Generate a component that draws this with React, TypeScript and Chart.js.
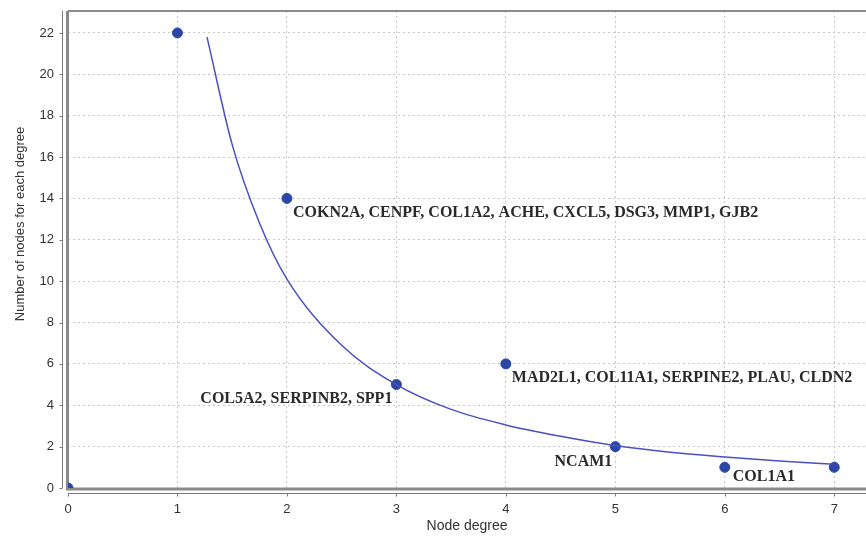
import React, { useEffect, useRef } from "react";
import { Chart, registerables } from "chart.js";

Chart.register(...registerables);

// Observed node-degree distribution
const degrees = [0, 1, 2, 3, 4, 5, 6, 7];
const nodeCounts = [0, 22, 14, 5, 6, 2, 1, 1];

// Gene labels attached to some of the points (by degree)
const labelDegrees = [2, 3, 4, 5, 6];
const labelTexts = [
  "COKN2A, CENPF, COL1A2, ACHE, CXCL5, DSG3, MMP1, GJB2",
  "COL5A2, SERPINB2, SPP1",
  "MAD2L1, COL11A1, SERPINE2, PLAU, CLDN2",
  "NCAM1",
  "COL1A1",
];

// Fitted power-law curve
const fitX = [1.27, 1.5, 1.75, 2, 2.5, 3, 3.5, 4, 4.5, 5, 5.5, 6, 6.5, 7];
const fitY = [21.8, 16.6, 12.8, 10.1, 6.9, 5.0, 3.8, 3.05, 2.5, 2.05, 1.73, 1.5, 1.3, 1.15];

const xTicks = [0, 1, 2, 3, 4, 5, 6, 7];
const yTicks = [0, 2, 4, 6, 8, 10, 12, 14, 16, 18, 20, 22];

const xTitle = "Node degree";
const yTitle = "Number of nodes for each degree";

const POINT_COLOR = "#2b46a6";
const LINE_COLOR = "#4a50c2";
const SANS = "'Liberation Sans', Arial, sans-serif";

// label placement styles: [dx, dy, align]
const labelPlacement: [number, number, CanvasTextAlign][] = [
  [6, 14, "left"],
  [-4, 14, "right"],
  [6, 14, "left"],
  [-3, 15, "right"],
  [8, 10, "left"],
];

const framePlugin = {
  id: "frame",
  afterLayout(chart: any) {
    // let the plot run to the right edge of the canvas, as in the reference
    const xs = chart.scales.x;
    const w = chart.width;
    chart.chartArea.right = w;
    chart.chartArea.width = w - chart.chartArea.left;
    xs.right = w;
    xs.width = w - xs.left;
    xs.configure();
  },
  beforeDatasetsDraw(chart: any) {
    const { ctx, chartArea } = chart;
    const { left, right, top, bottom } = chartArea;
    const xs = chart.scales.x;
    const ys = chart.scales.y;
    ctx.save();
    // top border
    ctx.strokeStyle = "#8c8c8c";
    ctx.lineWidth = 2;
    ctx.beginPath();
    ctx.moveTo(left, top);
    ctx.lineTo(right, top);
    ctx.stroke();
    // inner plot borders (left & bottom)
    ctx.strokeStyle = "#8a8a8a";
    ctx.lineWidth = 3;
    ctx.beginPath();
    ctx.moveTo(left - 0.5, top);
    ctx.lineTo(left - 0.5, bottom + 1);
    ctx.lineTo(right, bottom + 1);
    ctx.stroke();
    // outer axis lines
    ctx.strokeStyle = "#7a7a7a";
    ctx.lineWidth = 1;
    ctx.beginPath();
    ctx.moveTo(left - 5.5, top);
    ctx.lineTo(left - 5.5, bottom);
    ctx.moveTo(left, bottom + 5.5);
    ctx.lineTo(right, bottom + 5.5);
    ctx.stroke();
    // tick marks
    ctx.beginPath();
    for (const v of yTicks) {
      const py = Math.round(ys.getPixelForValue(v)) + 0.5;
      ctx.moveTo(left - 5.5, py);
      ctx.lineTo(left - 8.5, py);
    }
    for (const v of xTicks) {
      const px = Math.round(xs.getPixelForValue(v)) + 0.5;
      ctx.moveTo(px, bottom + 5.5);
      ctx.lineTo(px, bottom + 8.5);
    }
    ctx.stroke();
    // y axis title
    ctx.fillStyle = "#333333";
    ctx.font = `13px ${SANS}`;
    ctx.textAlign = "center";
    ctx.textBaseline = "middle";
    ctx.translate(20, 224);
    ctx.rotate(-Math.PI / 2);
    ctx.fillText(yTitle, 0, 0);
    ctx.restore();
  },
  afterDatasetsDraw(chart: any) {
    const { ctx } = chart;
    const xs = chart.scales.x;
    const ys = chart.scales.y;
    ctx.save();
    ctx.font = "bold 16px 'Liberation Serif', 'Times New Roman', serif";
    ctx.fillStyle = "#2a2a2a";
    ctx.textBaseline = "middle";
    labelDegrees.forEach((d, i) => {
      const idx = degrees.indexOf(d);
      const px = xs.getPixelForValue(d);
      const py = ys.getPixelForValue(nodeCounts[idx]);
      const [dx, dy, align] = labelPlacement[i];
      ctx.textAlign = align;
      ctx.fillText(labelTexts[i], px + dx, py + dy);
    });
    ctx.restore();
  },
};

export default function App() {
  const canvasRef = useRef<HTMLCanvasElement | null>(null);

  useEffect(() => {
    if (!canvasRef.current) return;
    const chart = new Chart(canvasRef.current, {
      type: "scatter",
      data: {
        datasets: [
          {
            type: "line",
            data: fitX.map((x, i) => ({ x, y: fitY[i] })),
            borderColor: LINE_COLOR,
            borderWidth: 1.5,
            pointRadius: 0,
            cubicInterpolationMode: "monotone",
            fill: false,
          } as any,
          {
            type: "scatter",
            data: degrees.map((x, i) => ({ x, y: nodeCounts[i] })),
            backgroundColor: POINT_COLOR,
            borderColor: POINT_COLOR,
            pointRadius: 5,
            pointHoverRadius: 5,
          },
        ],
      },
      options: {
        animation: false,
        responsive: false,
        layout: { padding: { top: 11, right: 0, left: 0, bottom: 0 } },
        plugins: { legend: { display: false }, tooltip: { enabled: false } },
        scales: {
          x: {
            type: "linear",
            min: 0,
            max: 7.29,
            afterFit: (s: any) => {
              s.height = 52;
              s.paddingLeft = 0;
              s.paddingRight = 0;
            },
            afterBuildTicks: (s: any) => {
              s.ticks = xTicks.map((v) => ({ value: v }));
            },
            border: { display: false, dash: [2, 3] },
            grid: {
              color: "#c8c8c8",
              lineWidth: 1,
              drawTicks: false,
            },
            ticks: {
              padding: 14,
              color: "#333333",
              font: { family: SANS, size: 13 },
              callback: (v: any) => String(v),
            },
            title: {
              display: true,
              text: xTitle,
              color: "#333333",
              font: { family: SANS, size: 14 },
              padding: { top: 5, bottom: 5 },
            },
          },
          y: {
            type: "linear",
            min: 0,
            max: 23.06,
            afterFit: (s: any) => {
              s.width = 68;
              s.paddingTop = 0;
              s.paddingBottom = 0;
            },
            afterBuildTicks: (s: any) => {
              s.ticks = yTicks.map((v) => ({ value: v }));
            },
            border: { display: false, dash: [2, 3] },
            grid: {
              color: "#c8c8c8",
              lineWidth: 1,
              drawTicks: false,
            },
            ticks: {
              padding: 14,
              color: "#333333",
              font: { family: SANS, size: 13 },
              callback: (v: any) => String(v),
            },
            title: { display: false },
          },
        },
      },
      plugins: [framePlugin],
    });
    return () => chart.destroy();
  }, []);

  return (
    <div style={{ position: "fixed", left: 0, top: 0, width: 866, height: 540, background: "#ffffff" }}>
      <canvas ref={canvasRef} width={866} height={540} style={{ display: "block" }} />
    </div>
  );
}
